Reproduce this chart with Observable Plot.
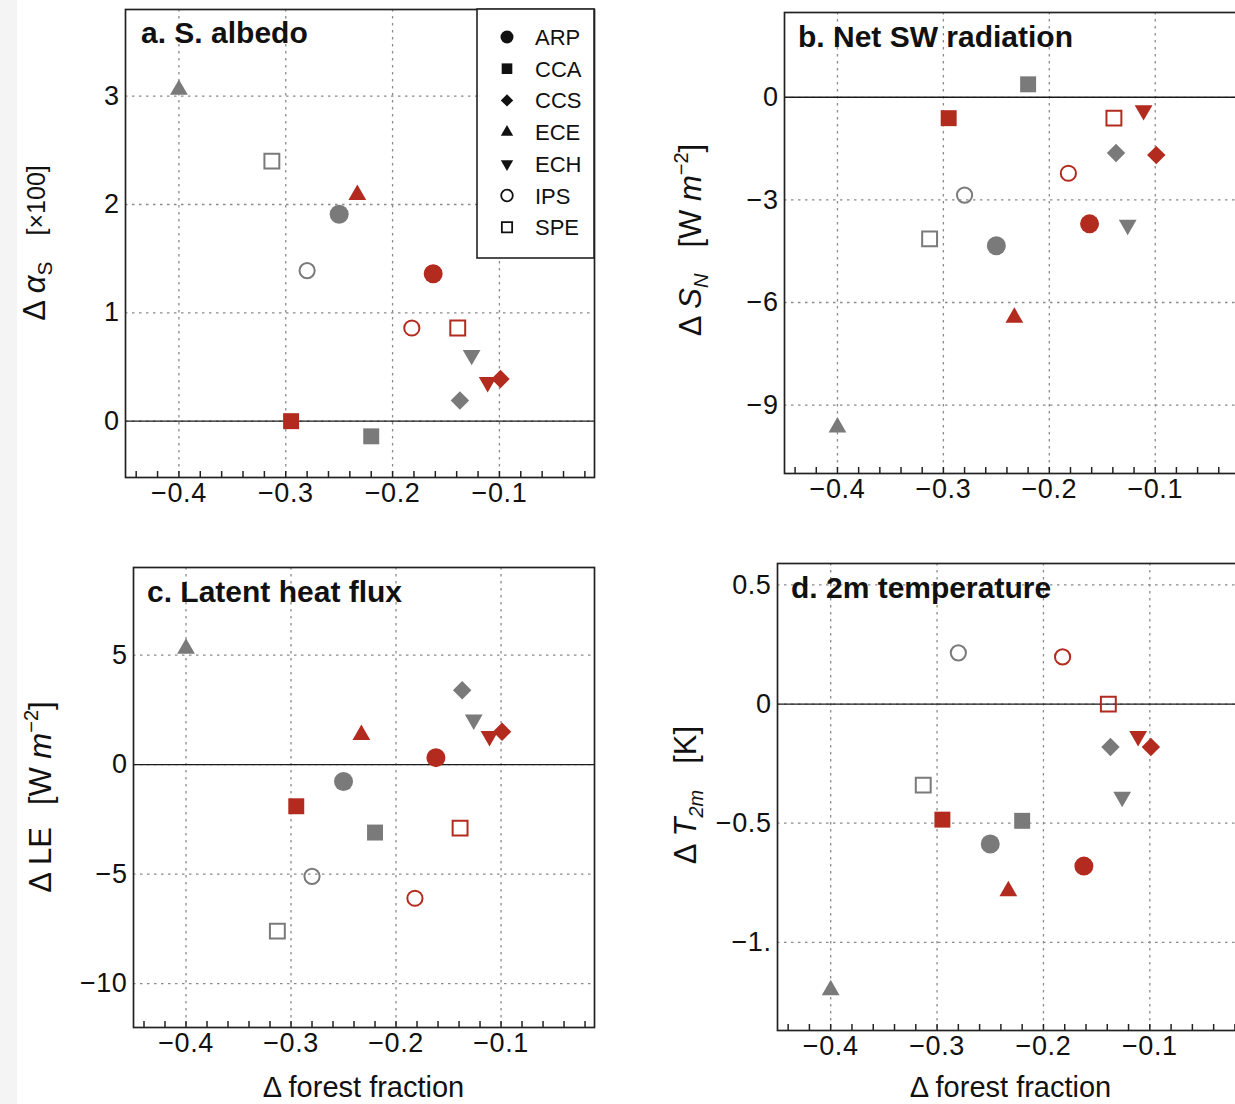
<!DOCTYPE html>
<html><head><meta charset="utf-8">
<script src="https://cdn.jsdelivr.net/npm/d3@7"></script>
<script src="https://cdn.jsdelivr.net/npm/@observablehq/plot@0.6"></script>
<style>
html,body{margin:0;padding:0;background:#fff;overflow:hidden;}
#root{position:relative;width:1235px;height:1104px;overflow:hidden;font-family:"Liberation Sans",Arial,sans-serif;}
.panel{position:absolute;}
.strip{position:absolute;left:0;top:0;width:17px;height:1104px;background:#f4f4f4;}
</style></head><body><div id="root"><div class="strip"></div></div>
<script>
// ---------------- data ----------------
const models = ["ARP", "CCA", "CCS", "ECE", "ECH", "IPS", "SPE"];
const forestGray = [-0.250, -0.220, -0.137, -0.400, -0.126, -0.280, -0.313];
const forestRed  = [-0.162, -0.295, -0.099, -0.233, -0.111, -0.182, -0.139];

const albedoGray = [1.91, -0.14, 0.19, 3.06, 0.61, 1.39, 2.40];
const albedoRed  = [1.36, 0.00, 0.39, 2.09, 0.36, 0.86, 0.86];

const swGray = [-4.34, 0.38, -1.63, -9.65, -3.73, -2.86, -4.14];
const swRed  = [-3.70, -0.61, -1.69, -6.44, -0.38, -2.22, -0.61];

const leGray = [-0.77, -3.10, 3.40, 5.30, 2.05, -5.10, -7.60];
const leRed  = [0.32, -1.90, 1.50, 1.36, 1.30, -6.10, -2.90];

const t2mGray = [-0.587, -0.49, -0.18, -1.20, -0.39, 0.215, -0.34];
const t2mRed  = [-0.68, -0.485, -0.18, -0.785, -0.135, 0.198, 0.0];

const xTicks = [-0.4, -0.3, -0.2, -0.1];
const xTickLabels = ["−0.4", "−0.3", "−0.2", "−0.1"];
const xMinorTicks = [-0.44, -0.42, -0.40, -0.38, -0.36, -0.34, -0.32, -0.30, -0.28, -0.26, -0.24, -0.22, -0.20, -0.18, -0.16, -0.14, -0.12, -0.10, -0.08, -0.06, -0.04, -0.02];

const yTicksA = [0, 1, 2, 3], yLabelsA = ["0", "1", "2", "3"];
const yTicksB = [0, -3, -6, -9], yLabelsB = ["0", "−3", "−6", "−9"];
const yTicksC = [5, 0, -5, -10], yLabelsC = ["5", "0", "−5", "−10"];
const yTicksD = [0.5, 0, -0.5, -1], yLabelsD = ["0.5", "0", "−0.5", "−1."];

// ---------------- styles ----------------
const RED = "#b32a1e", GRAY = "#7a7a7a";
const FONT = "'Liberation Sans', Arial, sans-serif";
const symbolStyle = {
  ARP: {symbol: "circle", r: 9.5, filled: true, rotate: 0},
  CCA: {symbol: "square", r: 9, filled: true, rotate: 0},
  CCS: {symbol: "diamond2", r: 8.3, filled: true, rotate: 0},
  ECE: {symbol: "triangle", r: 6.6, filled: true, rotate: 0},
  ECH: {symbol: "triangle", r: 6.6, filled: true, rotate: 180},
  IPS: {symbol: "circle", r: 7.6, filled: false, rotate: 0},
  SPE: {symbol: "square", r: 8.4, filled: false, rotate: 0}
};
const xDomain = [-0.45, -0.011];

function rowsFor(gray, red) {
  const rows = [];
  models.forEach((m, i) => rows.push({model: m, group: "gray", x: forestGray[i], y: gray[i]}));
  models.forEach((m, i) => rows.push({model: m, group: "red", x: forestRed[i], y: red[i]}));
  return rows;
}

function makePanel(cfg) {
  const rows = rowsFor(cfg.gray, cfg.red);
  const plotH = cfg.height - cfg.mT - cfg.mB;
  const dotMarks = [];
  for (const g of ["gray", "red"]) {
    const col = g === "gray" ? GRAY : RED;
    for (const m of models) {
      const s = symbolStyle[m];
      dotMarks.push(Plot.dot(rows.filter(d => d.group === g && d.model === m), {
        x: "x", y: "y", symbol: s.symbol, r: s.r, rotate: s.rotate,
        fill: s.filled ? col : "none",
        stroke: s.filled ? "none" : col,
        strokeWidth: s.filled ? 0 : 2
      }));
    }
  }
  const svg = Plot.plot({
    width: cfg.width, height: cfg.height,
    marginLeft: cfg.mL, marginTop: cfg.mT, marginRight: cfg.mR, marginBottom: cfg.mB,
    style: {fontFamily: FONT, fontSize: "27px", color: "#111", background: "transparent", overflow: "visible"},
    x: {domain: xDomain, ticks: xTicks, tickFormat: d => xTickLabels[xTicks.indexOf(d)], tickSize: 0, tickPadding: 5, label: null},
    y: {domain: cfg.yDomain, ticks: cfg.yTicks, tickFormat: d => cfg.yLabels[cfg.yTicks.indexOf(d)], tickSize: 0, tickPadding: 6, label: null},
    marks: [
      Plot.gridX(xTicks, {stroke: "#8a8a8a", strokeOpacity: 1, strokeWidth: 1.3, strokeDasharray: "2.5,4.5"}),
      Plot.gridY(cfg.yTicks, {stroke: "#8a8a8a", strokeOpacity: 1, strokeWidth: 1.3, strokeDasharray: "2.5,4.5"}),
      Plot.ruleY([0], {stroke: "#1a1a1a", strokeWidth: 1.4}),
      Plot.tickX(xMinorTicks, {x: d => d, stroke: "#222", strokeWidth: 1.5, insetTop: plotH - 6}),
      Plot.frame({stroke: "#222", strokeWidth: 1.7}),
      ...dotMarks
    ]
  });
  const sel = d3.select(svg);
  sel.selectAll("[aria-label='x-axis tick label'] text, [aria-label='y-axis tick label'] text").attr("letter-spacing", "0.6px");
  // panel title
  sel.append("text").attr("x", cfg.titleX).attr("y", cfg.titleY).attr("text-anchor", "start")
    .attr("font-family", FONT).attr("font-size", 30).attr("font-weight", "bold").attr("fill", "#111")
    .text(cfg.title);
  // y title
  const t = sel.append("text").attr("transform", `translate(${cfg.yTitleX},${cfg.yTitleY}) rotate(-90)`)
    .attr("text-anchor", "middle").attr("font-family", FONT).attr("font-size", 31).attr("fill", "#111");
  let shift = 0;
  for (const p of cfg.yTitle) {
    const ts = t.append("tspan").text(p.t);
    if (p.italic) ts.attr("font-style", "italic");
    if (p.size) ts.attr("font-size", p.size);
    const sh = p.shift || 0;
    if (sh - shift) ts.attr("dy", sh - shift);
    shift = sh;
    if (p.dx) ts.attr("dx", p.dx);
  }
  if (cfg.xTitle) {
    sel.append("text").attr("x", cfg.mL + (cfg.width - cfg.mL - cfg.mR) / 2).attr("y", cfg.xTitleY)
      .attr("text-anchor", "middle").attr("font-family", FONT).attr("font-size", 29).attr("fill", "#111")
      .text(cfg.xTitle);
  }
  if (cfg.legend) {
    const lg = sel.append("g");
    lg.append("rect").attr("x", 477).attr("y", 9).attr("width", 117).attr("height", 249)
      .attr("fill", "#fff").attr("stroke", "#222").attr("stroke-width", 1.6);
    const legendSizes = {ARP: 6.5, CCA: 6, CCS: 5.6, ECE: 4.6, ECH: 4.6, IPS: 5.8, SPE: 5.8};
    models.forEach((m, i) => {
      const s = symbolStyle[m];
      const cy = 37 + i * 31.7;
      const sym = {circle: d3.symbolCircle, square: d3.symbolSquare, diamond2: d3.symbolDiamond2, triangle: d3.symbolTriangle}[s.symbol];
      const r = legendSizes[m];
      lg.append("path").attr("d", d3.symbol(sym, Math.PI * r * r)())
        .attr("transform", `translate(507,${cy}) rotate(${s.rotate})`)
        .attr("fill", s.filled ? "#111" : "none").attr("stroke", s.filled ? "none" : "#111").attr("stroke-width", 1.8);
      lg.append("text").attr("x", 535).attr("y", cy + 8).attr("text-anchor", "start")
        .attr("font-family", FONT).attr("font-size", 22).attr("fill", "#111").text(m);
    });
  }
  svg.setAttribute("class", "panel");
  svg.style.left = cfg.left + "px";
  svg.style.top = cfg.top + "px";
  svg.style.position = "absolute";
  document.getElementById("root").appendChild(svg);
}

makePanel({
  left: 0, top: 0, width: 620, height: 520, mL: 125, mT: 9, mR: 26, mB: 43,
  yDomain: [-0.52, 3.8], yTicks: yTicksA, yLabels: yLabelsA, gray: albedoGray, red: albedoRed,
  title: "a. S. albedo", titleX: 141, titleY: 43,
  yTitleX: 45, yTitleY: 243,
  yTitle: [{t: "Δ "}, {t: "α", italic: true}, {t: "S", size: 21, shift: 7}, {t: "[×100]", size: 25, dx: 26, shift: 0}],
  legend: true
});
makePanel({
  left: 640, top: 0, width: 620, height: 520, mL: 144, mT: 12, mR: 11, mB: 47,
  yDomain: [-11, 2.48], yTicks: yTicksB, yLabels: yLabelsB, gray: swGray, red: swRed,
  title: "b. Net SW radiation", titleX: 158, titleY: 47,
  yTitleX: 61, yTitleY: 240,
  yTitle: [{t: "Δ "}, {t: "S", italic: true}, {t: "N", size: 20, italic: true, shift: 7}, {t: "[W ", dx: 26, shift: 0}, {t: "m", italic: true}, {t: "−2", size: 20, shift: -13}, {t: "]", shift: 0}]
});
makePanel({
  left: 0, top: 540, width: 620, height: 564, mL: 133, mT: 27, mR: 26, mB: 77,
  yDomain: [-12, 9], yTicks: yTicksC, yLabels: yLabelsC, gray: leGray, red: leRed,
  title: "c. Latent heat flux", titleX: 147, titleY: 62,
  yTitleX: 51, yTitleY: 257,
  yTitle: [{t: "Δ LE"}, {t: "[W ", dx: 22}, {t: "m", italic: true}, {t: "−2", size: 20, shift: -13}, {t: "]", shift: 0}],
  xTitle: "Δ forest fraction", xTitleY: 557
});
makePanel({
  left: 640, top: 540, width: 620, height: 564, mL: 137, mT: 23, mR: 16, mB: 74,
  yDomain: [-1.37, 0.59], yTicks: yTicksD, yLabels: yLabelsD, gray: t2mGray, red: t2mRed,
  title: "d. 2m temperature", titleX: 151, titleY: 58,
  yTitleX: 56, yTitleY: 255,
  yTitle: [{t: "Δ "}, {t: "T", italic: true}, {t: "2m", size: 20, italic: true, shift: 7}, {t: "[K]", dx: 26, shift: 0}],
  xTitle: "Δ forest fraction", xTitleY: 557
});
</script>
</body></html>
